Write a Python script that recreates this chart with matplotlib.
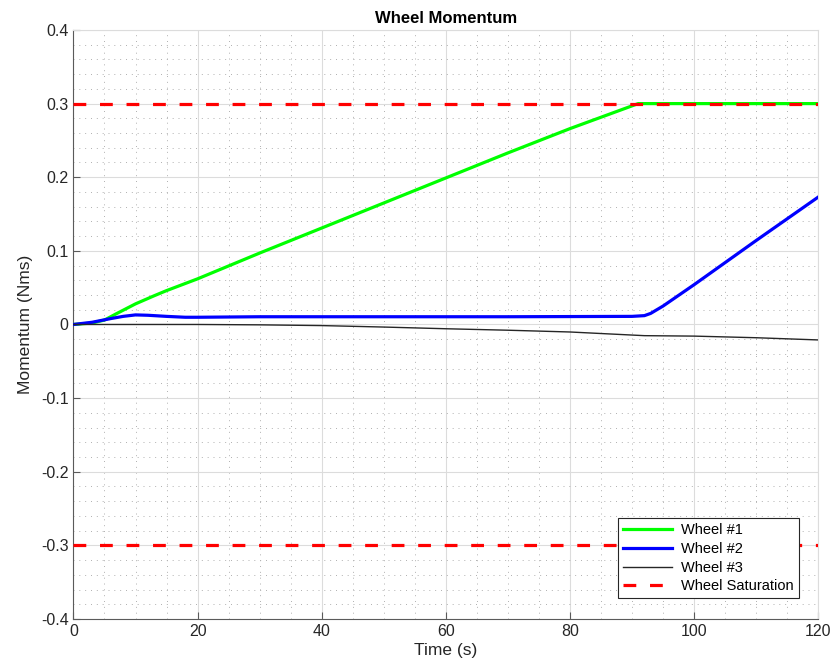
import numpy as np
import matplotlib
matplotlib.use('Agg')
import matplotlib.pyplot as plt
from matplotlib.ticker import MultipleLocator, FuncFormatter

plt.rcParams['font.family'] = ['Liberation Sans', 'DejaVu Sans']

# wheel momentum samples (time in s, momentum in Nms)
t1 = [0, 3, 5, 7, 10, 13, 15, 20, 30, 40, 50, 60, 70, 80, 91, 100, 110, 120]
h1 = [0, 0.002, 0.006, 0.015, 0.028, 0.039, 0.046, 0.062, 0.097, 0.131, 0.165, 0.199, 0.233, 0.266, 0.3, 0.3, 0.3, 0.3]

t2 = [0, 3, 6, 8, 10, 12, 15, 18, 20, 30, 50, 70, 90, 92, 93, 95, 100, 110, 120]
h2 = [0, 0.003, 0.008, 0.011, 0.013, 0.0125, 0.011, 0.0098, 0.0098, 0.0105, 0.0105, 0.0105, 0.011, 0.012, 0.015, 0.025, 0.054, 0.114, 0.173]

t3 = [0, 20, 30, 40, 50, 60, 70, 80, 92, 100, 110, 120]
h3 = [0, 0, -0.0005, -0.0015, -0.0035, -0.0058, -0.0078, -0.0102, -0.0152, -0.0158, -0.018, -0.021]

h_sat = 0.3
t_span = [0, 120]

fig = plt.figure(figsize=(8.33, 6.72), dpi=100)
ax = fig.add_axes([0.0882, 0.0789, 0.894, 0.8765])

dash = (0, (4, 4.3))
ax.plot(t1, h1, color='#00ff00', linewidth=2.3, label='Wheel #1', zorder=3)
ax.plot(t2, h2, color='#0000ff', linewidth=2.3, label='Wheel #2', zorder=3)
ax.plot(t3, h3, color='#262626', linewidth=1.0, label='Wheel #3', zorder=3)
ax.plot(t_span, [h_sat, h_sat], color='#ff0000', linewidth=2.3, linestyle=dash,
        label='Wheel Saturation', zorder=4)
ax.plot(t_span, [-h_sat, -h_sat], color='#ff0000', linewidth=2.3, linestyle=dash, zorder=4)

ax.set_xlim(0, 120)
ax.set_ylim(-0.4, 0.4)
ax.xaxis.set_major_locator(MultipleLocator(20))
ax.xaxis.set_minor_locator(MultipleLocator(5))
ax.yaxis.set_major_locator(MultipleLocator(0.1))
ax.yaxis.set_minor_locator(MultipleLocator(0.02))
ax.yaxis.set_major_formatter(FuncFormatter(lambda v, p: '0' if abs(v) < 1e-9 else f'{v:.1f}'))

ax.grid(which='major', color='#dcdcdc', linewidth=0.8, linestyle='-')
ax.grid(which='minor', color='#b0b0b0', linewidth=0.7, linestyle=(0, (1, 5)))
ax.set_axisbelow(True)

for side in ['top', 'right']:
    ax.spines[side].set_color('#dcdcdc')
    ax.spines[side].set_linewidth(0.8)
for side in ['left', 'bottom']:
    ax.spines[side].set_color('#5a5a5a')
    ax.spines[side].set_linewidth(0.8)

ax.tick_params(which='major', direction='in', length=5, width=0.8, colors='#5a5a5a',
               labelcolor='#262626', labelsize=11.5)
ax.tick_params(which='minor', length=0)

ax.set_title('Wheel Momentum', fontsize=12, fontweight='bold', pad=5)
ax.set_xlabel('Time (s)', fontsize=12.5, color='#262626', labelpad=3)
ax.set_ylabel('Momentum (Nms)', fontsize=12.5, color='#262626', labelpad=6)

leg = ax.legend(loc='lower right', bbox_to_anchor=(0.978, 0.03), fontsize=10.5, frameon=True,
                fancybox=False, framealpha=1, edgecolor='#262626', handlelength=3.4,
                borderpad=0.35, labelspacing=0.32, handletextpad=0.6, borderaxespad=0.2)
leg.get_frame().set_linewidth(0.8)

fig.savefig('out.png', dpi=100)
